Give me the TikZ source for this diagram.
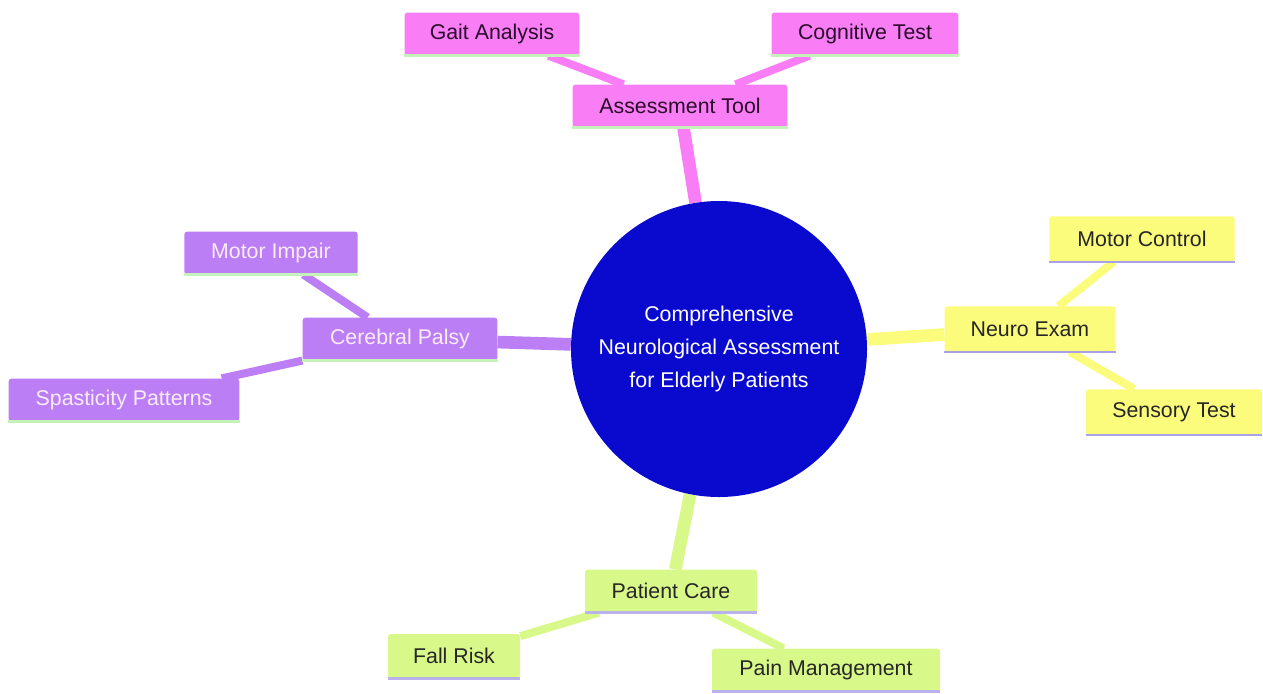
\documentclass[tikz,border=0pt]{standalone}
\usepackage{fontspec}
\setmainfont{Liberation Sans}
\usetikzlibrary{backgrounds}
\definecolor{cpink}{HTML}{F97EF5}
\definecolor{cpurple}{HTML}{BB7EF5}
\definecolor{cyellow}{HTML}{FBFB7C}
\definecolor{cgreen}{HTML}{D8F98A}
\definecolor{cblue}{HTML}{0A0ACF}
\definecolor{lgreen}{HTML}{C4F2B8}
\definecolor{lav}{HTML}{A9A0E6}
\definecolor{tdark}{HTML}{2A0A2A}
\definecolor{tlight}{HTML}{FBECFB}
\tikzset{
  box/.style={rectangle, rounded corners=2pt, minimum height=32pt, inner sep=0pt, font=\fontsize{16}{19}\selectfont},
  pinkbox/.style={box, fill=cpink, text=tdark},
  purplebox/.style={box, fill=cpurple, text=tlight},
  yellowbox/.style={box, fill=cyellow, text=black!85},
  greenbox/.style={box, fill=cgreen, text=black!85},
  thick1/.style={line width=9.5pt},
  thin1/.style={line width=6pt},
  under/.style={line width=2pt},
}
\begin{document}
\begin{tikzpicture}[x=0.75pt,y=-0.75pt]
\useasboundingbox (0,0) rectangle (1263,693);
\node[circle, fill=cblue, minimum size=222pt, inner sep=0pt, text=white, align=center, font=\fontsize{16}{24.5}\selectfont] (c) at (719,349) {Comprehensive\\Neurological Assessment\\for Elderly Patients};
% pink
\node[pinkbox, minimum width=161pt] (at) at (680,106) {Assessment Tool};
\node[pinkbox, minimum width=131pt] (ga) at (492,34) {Gait Analysis};
\node[pinkbox, minimum width=140pt] (ct) at (865,34) {Cognitive Test};
% yellow
\node[yellowbox, minimum width=128pt, minimum height=34pt] (ne) at (1030,329) {Neuro Exam};
\node[yellowbox, minimum width=139pt, minimum height=34pt] (mc) at (1142,239) {Motor Control};
\node[yellowbox, minimum width=132pt, minimum height=34pt] (st) at (1174,412) {Sensory Test};
% green
\node[greenbox, minimum width=129pt] (pc) at (671,591) {Patient Care};
\node[greenbox, minimum width=99pt, minimum height=33pt] (fr) at (454,656) {Fall Risk};
\node[greenbox, minimum width=171pt] (pm) at (826,670) {Pain Management};
% purple
\node[purplebox, minimum width=146pt] (cp) at (400,339) {Cerebral Palsy};
\node[purplebox, minimum width=130pt] (mi) at (271,253) {Motor Impair};
\node[purplebox, minimum width=173pt] (sp) at (124,400) {Spasticity Patterns};
% underlines
\foreach \n in {at,ga,ct} \draw[under, lgreen] (\n.south west) -- (\n.south east);
\foreach \n in {cp,mi,sp} \draw[under, lgreen] (\n.south west) -- (\n.south east);
\foreach \n in {ne,mc,st} \draw[under, lav] (\n.south west) -- (\n.south east);
\foreach \n in {pc,fr,pm} \draw[under, lav!80] (\n.south west) -- (\n.south east);
\begin{scope}[on background layer]
\draw[thick1, cpink] (c) -- (at);
\draw[thin1, cpink] (at) -- (ga);
\draw[thin1, cpink] (at) -- (ct);
\draw[thick1, cyellow] (c) -- (ne);
\draw[thin1, cyellow] (ne) -- (mc);
\draw[thin1, cyellow] (ne) -- (st);
\draw[thick1, cgreen] (c) -- (pc);
\draw[thin1, cgreen] (pc) -- (fr);
\draw[thin1, cgreen] (pc) -- (pm);
\draw[thick1, cpurple] (c) -- (cp);
\draw[thin1, cpurple] (cp) -- (mi);
\draw[thin1, cpurple] (cp) -- (sp);
\end{scope}
\end{tikzpicture}
\end{document}
